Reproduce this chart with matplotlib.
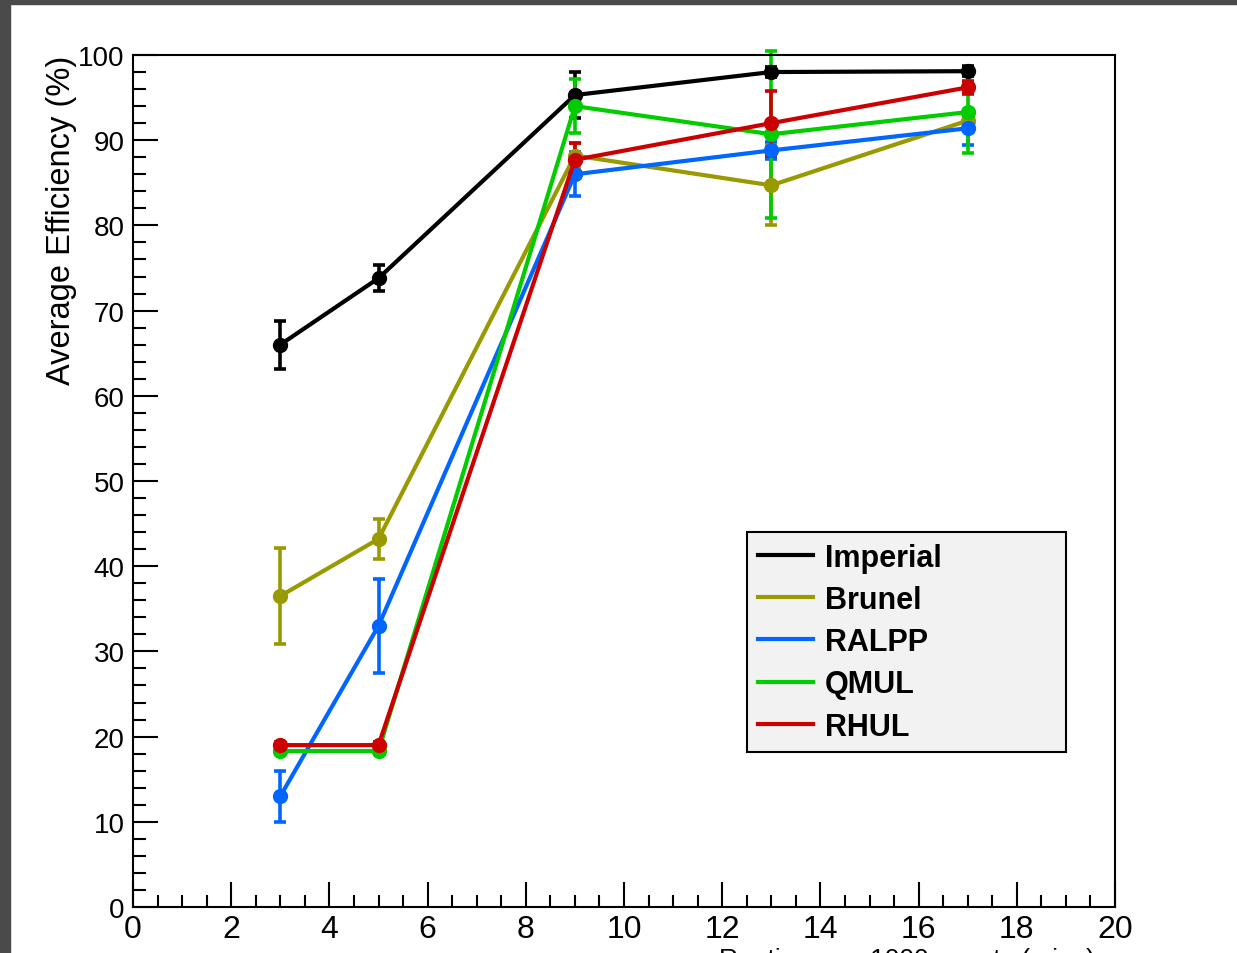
import numpy as np
import matplotlib
matplotlib.use("Agg")
import matplotlib.pyplot as plt
from matplotlib.ticker import MultipleLocator
from matplotlib.patches import Rectangle
from matplotlib.lines import Line2D

plt.rcParams['font.family'] = ['Liberation Sans', 'DejaVu Sans']

# runtime per 1000 events (mins)
x = [3, 5, 9, 13, 17]

sites = ["Imperial", "Brunel", "RALPP", "QMUL", "RHUL"]
colours = ["#000000", "#999900", "#0066ff", "#00cc00", "#cc0000"]

imperial = [66.0, 73.8, 95.3, 98.0, 98.1]
imperial_err = [2.8, 1.5, 2.7, 0.6, 0.6]
brunel = [36.5, 43.2, 88.2, 84.7, 92.3]
brunel_err = [5.6, 2.3, 1.5, 4.6, 0.8]
ralpp = [13.0, 33.0, 86.0, 88.8, 91.4]
ralpp_err = [3.0, 5.5, 2.6, 1.0, 2.0]
qmul = [18.3, 18.3, 94.0, 90.7, 93.3]
qmul_err = [0.4, 0.4, 3.2, 9.8, 4.8]
rhul = [19.0, 19.0, 87.7, 92.0, 96.2]
rhul_err = [0.4, 0.4, 2.0, 3.8, 0.8]

values = [imperial, brunel, ralpp, qmul, rhul]
errors = [imperial_err, brunel_err, ralpp_err, qmul_err, rhul_err]

fig = plt.figure(figsize=(12.37, 9.54), dpi=100)

# screenshot border
fig.patches.append(Rectangle((0, 1 - 5/954), 1, 5/954, transform=fig.transFigure,
                             color="#4a4a4a", zorder=-1))
fig.patches.append(Rectangle((0, 0), 10/1237, 1, transform=fig.transFigure,
                             color="#4a4a4a", zorder=-1))

ax = fig.add_axes([133/1237, 1 - 908/954, (1115 - 133)/1237, (908 - 56)/954])

for name, c, y, e in zip(sites, colours, values, errors):
    ax.errorbar(x, y, yerr=e, fmt='-o', color=c, lw=3, ms=10, elinewidth=2.6,
                capsize=4, capthick=2.6, label=name, clip_on=False)

ax.set_xlim(0, 20)
ax.set_ylim(0, 100)
ax.xaxis.set_major_locator(MultipleLocator(2))
ax.xaxis.set_minor_locator(MultipleLocator(0.5))
ax.yaxis.set_major_locator(MultipleLocator(10))
ax.yaxis.set_minor_locator(MultipleLocator(2))
ax.tick_params(which='both', direction='in', top=False, right=False, width=1.5,
               labelsize=20)
ax.tick_params(which='major', length=18, pad=6)
ax.tick_params(which='minor', length=9)
ax.tick_params(axis='x', labelsize=23, pad=5)
for s in ax.spines.values():
    s.set_linewidth(1.5)

ax.set_ylabel("Average Efficiency (%)", fontsize=23.5)
ax.yaxis.set_label_coords((62 - 133)/982, 1.0)
ax.yaxis.label.set_ha('right')
ax.yaxis.label.set_va('center')

fig.text(1095/1237, 1 - 948/954, "Runtime per 1000 events (mins)", fontsize=19,
         ha='right', va='top')

lh = [Line2D([], [], color=c, lw=3) for c in colours]
leg = fig.legend(lh, sites, loc='upper left',
                 bbox_to_anchor=(747/1237, 1 - 747/954, (1066 - 747)/1237, (747 - 533)/954),
                 mode='expand', fancybox=False, framealpha=1, borderaxespad=0,
                 prop={'size': 22, 'weight': 'bold'}, handlelength=1.8,
                 handletextpad=0.4, labelspacing=0.4, borderpad=0.35)
leg.get_frame().set_facecolor("#f2f2f2")
leg.get_frame().set_edgecolor("black")
leg.get_frame().set_linewidth(1.5)

fig.savefig("out.png", dpi=100)
